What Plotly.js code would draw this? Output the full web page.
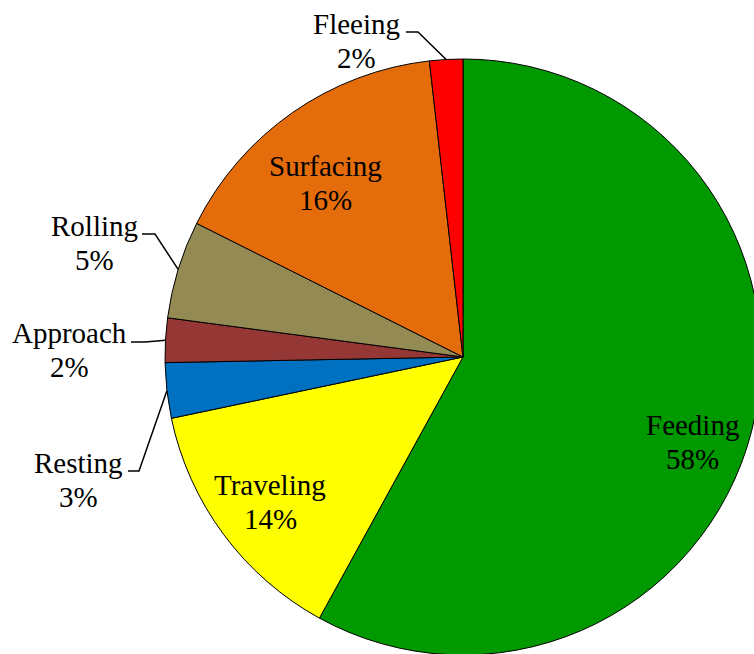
<!DOCTYPE html>
<html>
<head>
<meta charset="utf-8">
<script src="https://cdn.plot.ly/plotly-3.0.1.min.js"></script>
<style>
html, body { margin: 0; padding: 0; overflow: hidden; background: #fff; width: 754px; height: 654px; }
#chart { position: absolute; left: 0; top: 0; }
</style>
</head>
<body>
<div id="chart"></div>
<script>
// ---- data ----
const categories = ["Feeding", "Traveling", "Resting", "Approach", "Rolling", "Surfacing", "Fleeing"];
const shares = [58.0, 13.7, 3.0, 2.4, 5.3, 15.8, 1.8];
const sliceColors = ["#009900", "#FFFF00", "#0070C0", "#953735", "#948A54", "#E46C0A", "#FF0000"];

// ---- layout geometry (pixels) ----
const W = 926, H = 714;          // plot larger than viewport; viewport crops it
const CX = 463, CY = 357, R = 298;
const LINE = 34;                 // distance between the two label lines
// label block centres (pixels) and leader elbows
const labelPos = {
  Feeding:   {x: 692, y: 442, leader: false},
  Traveling: {x: 270, y: 502, leader: false},
  Resting:   {x: 78,  y: 480, leader: true, elbow: [[128, 471], [139, 471]]},
  Approach:  {x: 69,  y: 350, leader: true, elbow: [[131, 342], [145, 342]]},
  Rolling:   {x: 94,  y: 243, leader: true, elbow: [[142, 234], [155, 234]]},
  Surfacing: {x: 325, y: 183, leader: false},
  Fleeing:   {x: 356, y: 41,  leader: true, elbow: [[406, 32], [418, 32]]}
};

const px = x => x / W;
const py = y => 1 - y / H;
const labelFont = {family: 'Liberation Serif, Times New Roman, serif', size: 29, color: '#000'};

const total = shares.reduce((a, b) => a + b, 0);
let cum = 0;
const annotations = [];
const shapes = [];
categories.forEach((c, i) => {
  const frac = shares[i] / total;
  const mid = (cum + frac / 2) * 2 * Math.PI; // clockwise from 12 o'clock
  cum += frac;
  const lp = labelPos[c];
  [[c, lp.y - LINE / 2], [Math.round(frac * 100) + '%', lp.y + LINE / 2]].forEach(([t, yy]) => {
    annotations.push({
      xref: 'paper', yref: 'paper', x: px(lp.x), y: py(yy),
      xanchor: 'center', yanchor: 'middle', showarrow: false,
      text: t, font: labelFont
    });
  });
  if (lp.leader) {
    const ex = CX + R * Math.sin(mid), ey = CY - R * Math.cos(mid);
    const pts = lp.elbow.concat([[ex, ey]]);
    const path = pts.map((p, k) => (k ? 'L' : 'M') + px(p[0]).toFixed(5) + ',' + py(p[1]).toFixed(5)).join(' ');
    shapes.push({type: 'path', xref: 'paper', yref: 'paper', path: path,
      line: {color: '#000', width: 1.5}});
  }
});

const trace = {
  type: 'pie',
  labels: categories,
  values: shares,
  sort: false,
  direction: 'clockwise',
  rotation: 0,
  textinfo: 'none',
  hoverinfo: 'label+percent',
  marker: {colors: sliceColors, line: {color: '#000', width: 1}},
  domain: {x: [(CX - R) / W, (CX + R) / W], y: [1 - (CY + R) / H, 1 - (CY - R) / H]},
  showlegend: false
};

Plotly.newPlot('chart', [trace], {
  width: W, height: H,
  margin: {l: 0, r: 0, t: 0, b: 0, pad: 0},
  paper_bgcolor: '#fff',
  showlegend: false,
  annotations: annotations,
  shapes: shapes
}, {staticPlot: true, displayModeBar: false});
</script>
</body>
</html>
